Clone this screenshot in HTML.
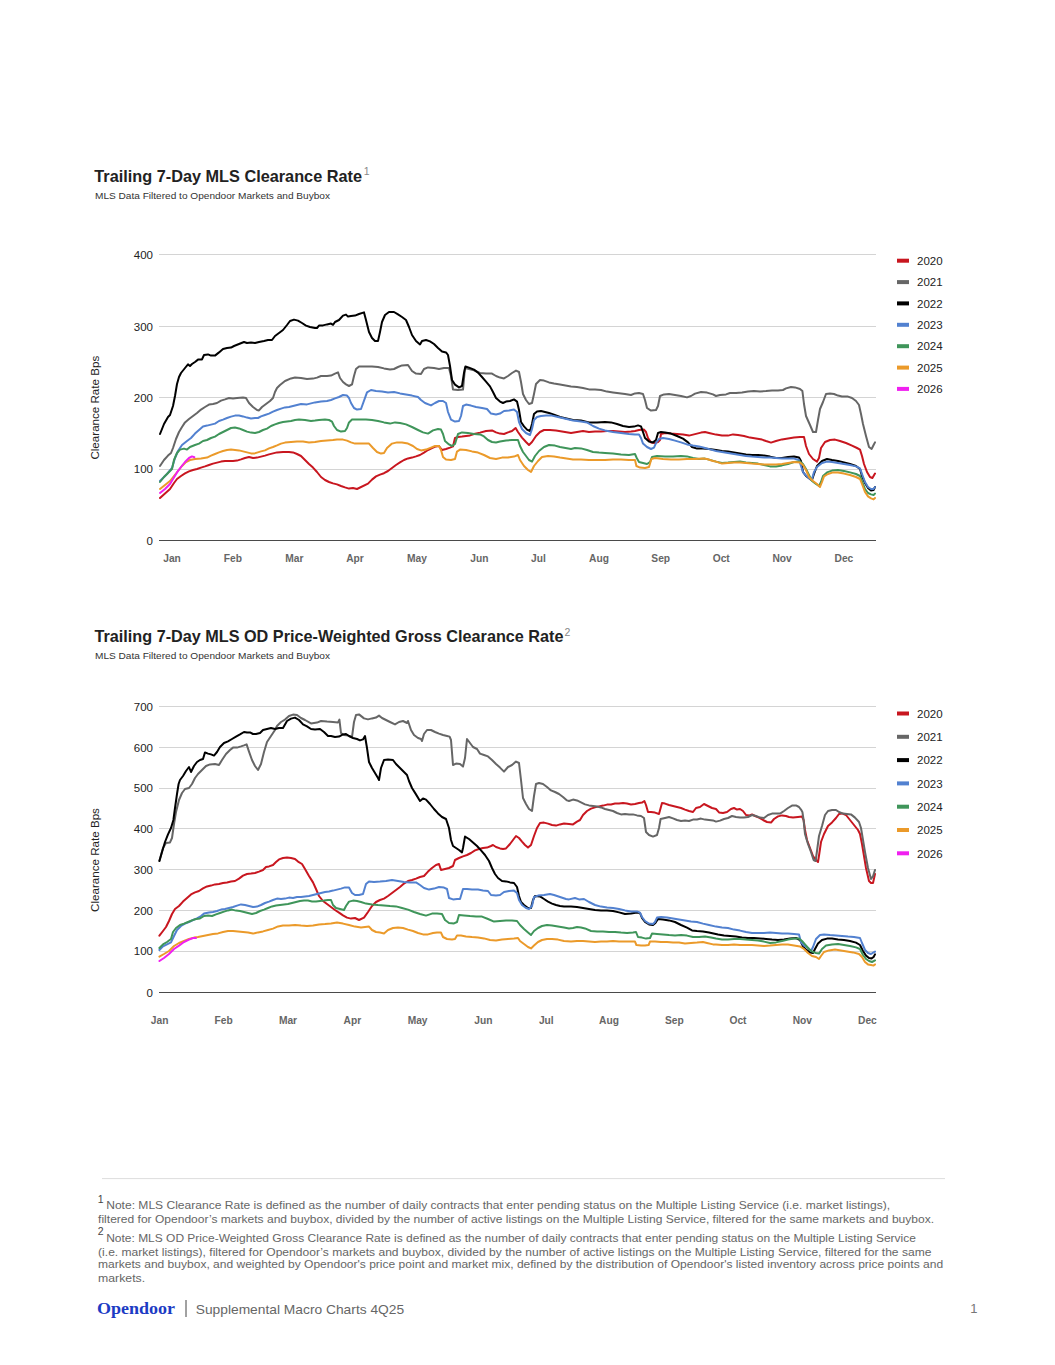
<!DOCTYPE html>
<html><head><meta charset="utf-8"><style>
html,body{margin:0;padding:0;background:#fff;}
body{width:1055px;height:1365px;position:relative;overflow:hidden;font-family:"Liberation Sans",sans-serif;}
svg{position:absolute;left:0;top:0;font-family:"Liberation Sans",sans-serif;}
.title{font-weight:bold;font-size:16.5px;fill:#222;}
.tsup{font-size:10.5px;fill:#888;}
.sub{font-size:9.5px;fill:#333;}
.yl{font-size:11.5px;fill:#222;}
.xl{font-size:11px;fill:#666;font-weight:bold;}
.lg{font-size:11.5px;fill:#222;}
.yt{font-size:11.6px;fill:#222;}
.fn{font-size:11px;fill:#666;}
.fsup{font-size:10.5px;fill:#444;}
.logo{font-family:"Liberation Serif",serif;font-weight:bold;font-size:17.5px;fill:#1c3bc4;}
.foot{font-size:12.8px;fill:#666;}
.pnum{font-size:13px;fill:#777;}
</style></head><body>
<svg width="1055" height="1365" viewBox="0 0 1055 1365">
<line x1="159" y1="254.5" x2="876" y2="254.5" stroke="#d4d4d4" stroke-width="1"/>
<text x="153" y="258.6" text-anchor="end" class="yl">400</text>
<line x1="159" y1="326.5" x2="876" y2="326.5" stroke="#d4d4d4" stroke-width="1"/>
<text x="153" y="330.59999999999997" text-anchor="end" class="yl">300</text>
<line x1="159" y1="397.5" x2="876" y2="397.5" stroke="#d4d4d4" stroke-width="1"/>
<text x="153" y="401.59999999999997" text-anchor="end" class="yl">200</text>
<line x1="159" y1="469.5" x2="876" y2="469.5" stroke="#d4d4d4" stroke-width="1"/>
<text x="153" y="473.4" text-anchor="end" class="yl">100</text>
<text x="153" y="544.7" text-anchor="end" class="yl">0</text>
<path d="M160.0,498.0 L165.0,493.4 L170.0,489.0 L174.0,483.0 L177.0,479.0 L181.0,476.0 L185.0,473.4 L189.0,471.4 L193.0,470.0 L197.0,469.0 L201.0,467.6 L205.0,466.4 L209.0,465.0 L213.0,463.6 L217.0,462.6 L221.0,461.6 L225.0,461.0 L229.0,461.0 L233.0,461.0 L237.0,460.6 L241.0,459.4 L245.0,458.0 L249.0,457.0 L253.0,458.0 L257.0,457.6 L261.0,456.6 L265.0,455.6 L269.0,454.4 L273.0,453.4 L277.0,452.4 L283.0,452.0 L289.0,452.0 L293.0,452.4 L297.0,454.0 L301.0,456.0 L305.0,460.0 L309.0,464.0 L313.0,467.6 L317.0,472.0 L321.0,477.0 L325.0,480.0 L329.0,482.0 L333.0,483.4 L337.0,484.4 L341.0,486.0 L345.0,487.4 L349.0,488.6 L353.0,488.0 L357.0,489.0 L368.0,483.6 L372.0,479.6 L376.0,476.4 L380.0,474.6 L384.0,473.2 L388.0,471.0 L392.0,468.0 L396.0,465.0 L400.0,462.4 L404.0,460.0 L408.0,458.4 L412.0,457.6 L416.0,456.4 L420.0,455.0 L424.0,452.6 L428.0,450.0 L432.0,448.0 L436.0,446.4 L439.0,446.0 L442.0,450.0 L446.0,449.0 L450.0,447.6 L453.0,446.4 L455.0,438.0 L458.0,437.0 L462.0,436.6 L466.0,436.0 L470.0,435.4 L474.0,434.0 L480.0,432.6 L486.0,431.0 L492.0,430.4 L496.0,432.4 L500.0,433.6 L504.0,434.0 L508.0,432.4 L512.0,431.0 L515.6,428.0 L518.0,432.0 L522.0,437.6 L526.0,442.0 L529.0,445.0 L532.0,442.0 L536.0,436.0 L540.0,432.0 L544.0,430.0 L550.0,430.0 L556.0,430.6 L562.0,431.4 L571.0,433.0 L577.0,432.0 L583.0,431.0 L589.0,432.0 L595.0,431.6 L601.0,431.4 L607.0,431.0 L613.0,431.0 L619.0,431.4 L625.0,432.0 L631.0,431.6 L635.0,431.0 L639.0,430.0 L644.0,429.6 L646.0,432.0 L648.0,438.0 L651.0,442.4 L655.0,443.0 L658.0,442.0 L660.0,440.0 L661.0,434.0 L665.0,433.0 L671.0,433.6 L677.0,434.0 L683.0,434.6 L689.0,435.6 L693.0,434.6 L697.0,433.6 L701.0,432.6 L705.0,432.0 L709.0,433.0 L716.0,434.6 L722.0,435.6 L728.0,435.6 L733.0,434.4 L738.0,435.0 L744.0,436.0 L750.0,437.6 L756.0,438.4 L762.0,439.6 L766.0,441.0 L771.0,442.6 L776.0,441.0 L782.0,439.4 L788.0,438.4 L794.0,437.6 L800.0,437.0 L804.0,437.0 L806.0,446.0 L809.0,454.0 L813.0,459.0 L817.0,461.6 L819.0,458.0 L821.0,448.0 L825.0,442.0 L830.0,440.0 L835.0,439.6 L840.0,441.0 L846.0,443.0 L852.0,445.6 L857.0,448.0 L860.0,449.6 L862.0,456.0 L864.0,464.0 L867.0,472.0 L870.0,477.0 L872.4,478.0 L875.0,473.6" fill="none" stroke="#c8161f" stroke-width="2" stroke-linejoin="round" stroke-linecap="round"/>
<path d="M160.0,466.0 L164.0,460.0 L168.0,455.6 L171.0,453.0 L173.0,448.0 L176.0,439.0 L179.0,432.0 L182.0,427.0 L185.0,422.4 L189.0,419.0 L193.0,416.0 L197.0,413.0 L201.0,409.6 L205.0,407.0 L209.0,404.6 L213.0,404.0 L217.0,403.0 L221.0,400.6 L225.0,399.4 L229.0,398.0 L233.0,398.6 L237.0,398.0 L243.0,397.4 L246.0,398.0 L249.0,403.0 L253.0,407.0 L257.0,410.0 L259.0,410.4 L262.0,407.0 L266.0,404.0 L270.0,401.0 L273.0,398.0 L275.0,392.0 L277.0,388.0 L280.0,385.0 L285.0,381.0 L291.0,378.4 L295.0,377.6 L301.0,378.0 L307.0,379.0 L313.0,378.6 L317.0,377.6 L321.0,376.0 L327.0,376.0 L331.0,375.6 L335.0,373.6 L338.0,372.4 L340.0,378.0 L343.0,382.0 L346.0,384.4 L349.0,386.0 L352.0,384.4 L354.0,376.0 L356.0,369.0 L359.0,366.4 L372.0,366.6 L378.0,367.0 L384.0,368.4 L390.0,369.6 L394.0,369.0 L398.0,367.0 L402.0,365.4 L408.0,365.0 L412.0,371.0 L416.0,373.6 L421.0,374.0 L424.0,369.0 L428.0,367.4 L434.0,368.0 L439.0,369.0 L444.0,368.0 L449.0,368.0 L451.0,376.0 L453.0,389.6 L458.0,390.0 L463.0,389.6 L465.0,368.0 L469.0,369.0 L474.0,370.4 L480.0,373.0 L486.0,373.6 L492.0,373.6 L496.0,376.0 L500.0,377.6 L504.0,378.4 L508.0,376.0 L512.0,373.0 L516.0,370.6 L519.0,372.0 L521.0,382.0 L523.0,394.0 L526.0,400.0 L529.0,404.0 L532.0,403.0 L534.0,394.0 L536.0,384.0 L540.0,380.0 L544.0,380.6 L549.0,382.4 L554.0,383.4 L560.0,384.4 L571.0,386.4 L577.0,387.0 L583.0,388.0 L589.0,389.4 L595.0,389.6 L601.0,390.0 L607.0,391.6 L613.0,392.4 L619.0,393.2 L625.0,394.0 L631.0,395.0 L635.0,393.4 L639.0,393.0 L643.0,394.0 L645.0,400.0 L647.0,408.0 L651.0,410.6 L656.0,410.0 L658.0,406.0 L660.0,396.0 L664.0,394.4 L669.0,394.0 L675.0,395.0 L681.0,396.0 L687.0,397.4 L691.0,396.0 L695.0,393.6 L701.0,392.0 L707.0,392.6 L713.0,394.4 L716.0,396.0 L720.0,395.0 L726.0,394.4 L730.0,393.0 L736.0,393.0 L742.0,392.4 L748.0,391.6 L754.0,391.0 L760.0,391.4 L766.0,391.0 L772.0,390.4 L778.0,390.4 L783.0,390.0 L786.0,388.4 L791.0,387.0 L795.0,387.4 L800.0,389.0 L802.4,391.0 L804.0,404.0 L806.0,416.0 L810.0,425.0 L813.0,432.0 L816.0,432.0 L818.0,420.0 L820.0,409.0 L823.0,402.0 L826.0,394.0 L830.0,393.4 L834.0,394.0 L838.0,395.6 L842.0,396.4 L848.0,396.6 L852.0,398.0 L856.0,401.0 L859.0,405.0 L861.0,414.0 L863.0,424.0 L866.0,436.0 L869.0,447.0 L871.6,449.0 L873.6,445.0 L875.0,442.4" fill="none" stroke="#666666" stroke-width="2" stroke-linejoin="round" stroke-linecap="round"/>
<path d="M160.0,434.0 L164.0,424.0 L168.0,417.0 L170.0,415.0 L173.0,406.0 L175.0,396.0 L177.0,384.0 L179.0,377.0 L181.0,373.0 L185.0,368.0 L188.0,364.4 L190.0,366.0 L192.0,364.0 L195.0,362.0 L198.0,359.6 L202.0,359.4 L204.0,355.0 L208.0,354.4 L211.0,355.6 L215.0,355.6 L219.0,352.4 L223.0,349.0 L227.0,348.0 L231.0,347.6 L234.0,346.0 L239.0,344.0 L244.0,342.0 L247.0,343.0 L251.0,342.6 L255.0,343.0 L259.0,342.0 L264.0,341.0 L268.0,340.0 L272.0,340.0 L275.0,336.0 L279.0,333.0 L283.0,330.0 L287.0,325.0 L290.0,321.0 L294.0,319.6 L298.0,320.6 L302.0,323.0 L306.0,325.6 L310.0,327.0 L315.0,328.0 L317.0,328.0 L319.0,325.6 L323.0,325.4 L327.0,324.4 L331.0,323.6 L333.0,324.8 L335.0,322.0 L339.0,320.0 L343.0,315.6 L346.0,314.6 L348.0,316.6 L351.0,316.0 L355.0,315.6 L359.0,314.0 L364.0,312.4 L366.0,320.0 L369.0,332.0 L372.0,338.0 L375.0,341.0 L378.0,341.0 L380.0,332.0 L382.0,322.0 L385.0,315.0 L389.0,312.0 L394.0,312.0 L398.0,314.4 L402.0,317.0 L406.0,320.0 L409.0,327.0 L412.0,335.0 L416.0,341.0 L420.0,344.4 L422.0,341.0 L426.0,340.0 L430.0,341.4 L434.0,344.0 L438.0,348.0 L442.0,351.6 L446.0,352.4 L448.0,355.0 L450.0,366.0 L452.0,380.0 L455.0,384.6 L459.0,387.4 L462.0,386.0 L464.0,373.0 L465.4,366.4 L469.0,367.6 L474.0,369.6 L478.0,372.6 L482.0,377.0 L486.0,381.6 L490.0,386.4 L493.0,392.0 L496.0,398.0 L500.0,401.6 L503.0,403.0 L506.0,401.6 L510.0,401.0 L514.0,399.4 L517.0,401.6 L519.0,410.0 L521.0,422.0 L524.0,426.4 L527.0,429.6 L530.0,431.0 L532.0,424.0 L534.0,414.0 L537.0,411.4 L541.0,411.0 L545.0,412.0 L549.0,413.0 L554.0,414.6 L560.0,417.0 L573.0,420.0 L581.0,420.6 L589.0,422.4 L597.0,422.6 L605.0,422.0 L611.0,422.4 L617.0,424.0 L623.0,426.0 L629.0,427.0 L634.0,426.6 L638.0,425.4 L641.0,426.4 L643.0,432.0 L645.0,438.0 L649.0,441.6 L653.0,442.4 L656.0,440.0 L658.0,433.0 L661.0,432.0 L665.0,432.4 L671.0,433.6 L677.0,436.0 L683.0,438.6 L688.0,442.4 L692.0,447.0 L697.0,448.6 L703.0,448.6 L709.0,449.0 L716.0,450.0 L722.0,451.0 L728.0,451.4 L734.0,452.4 L740.0,453.4 L746.0,454.4 L752.0,455.0 L758.0,455.0 L764.0,455.6 L770.0,456.6 L776.0,458.0 L782.0,458.0 L788.0,457.0 L794.0,456.4 L799.0,457.4 L801.0,461.0 L803.0,472.0 L806.0,476.0 L810.0,479.0 L812.0,480.0 L814.0,474.0 L817.0,466.0 L822.0,461.0 L827.0,459.0 L832.0,460.0 L838.0,461.0 L844.0,462.4 L850.0,464.0 L856.0,466.0 L860.0,469.0 L862.0,476.0 L865.0,483.0 L868.0,488.0 L871.0,490.6 L873.6,490.0 L875.0,487.0" fill="none" stroke="#000000" stroke-width="2" stroke-linejoin="round" stroke-linecap="round"/>
<path d="M160.0,481.0 L167.0,474.0 L172.0,468.0 L175.0,458.0 L178.0,451.0 L182.0,445.0 L187.0,441.0 L191.0,438.0 L195.0,433.6 L199.0,430.0 L203.0,426.4 L207.0,425.6 L211.0,424.6 L215.0,423.6 L219.0,421.0 L223.0,419.6 L227.0,418.0 L231.0,416.6 L235.0,415.6 L239.0,415.6 L243.0,416.4 L247.0,417.6 L251.0,418.4 L255.0,418.0 L258.0,418.0 L261.0,416.4 L265.0,415.0 L269.0,413.6 L273.0,411.6 L277.0,410.0 L281.0,408.6 L285.0,407.4 L289.0,407.0 L293.0,406.0 L297.0,405.0 L301.0,404.0 L307.0,404.4 L311.0,403.4 L315.0,402.4 L321.0,401.6 L327.0,401.0 L331.0,400.0 L335.0,398.4 L339.0,397.0 L343.0,395.0 L347.0,395.6 L349.0,398.0 L351.0,403.0 L354.0,408.0 L357.0,409.6 L361.0,409.0 L367.0,392.4 L371.0,390.0 L376.0,391.0 L382.0,391.6 L388.0,392.4 L394.0,392.0 L400.0,393.4 L406.0,394.4 L412.0,395.6 L418.0,397.0 L421.0,400.0 L425.0,403.0 L431.0,405.4 L435.0,403.0 L439.0,401.0 L443.0,401.0 L446.0,403.0 L448.0,412.0 L451.0,419.6 L455.0,421.6 L459.0,421.0 L461.0,416.0 L463.0,406.0 L466.0,404.6 L471.0,405.6 L476.0,407.0 L482.0,408.0 L487.0,409.0 L491.0,413.6 L496.0,414.4 L500.0,413.6 L504.0,411.0 L509.0,410.4 L514.0,409.4 L517.0,412.0 L519.0,422.0 L522.0,429.0 L526.0,433.0 L530.0,435.0 L532.0,429.0 L534.0,420.0 L537.0,417.0 L541.0,416.0 L546.0,415.6 L552.0,415.6 L558.0,417.0 L573.0,420.4 L581.0,421.4 L587.0,422.4 L593.0,426.0 L599.0,428.6 L605.0,430.4 L613.0,432.0 L621.0,433.0 L629.0,434.0 L635.0,434.6 L639.0,434.6 L641.0,438.0 L643.0,443.6 L647.0,447.0 L651.0,449.0 L654.0,447.6 L656.0,443.0 L659.0,439.0 L663.0,438.0 L669.0,439.0 L675.0,440.6 L681.0,442.4 L687.0,444.4 L693.0,445.6 L699.0,446.4 L705.0,448.0 L711.0,449.6 L716.0,451.0 L722.0,452.0 L728.0,453.0 L734.0,454.0 L740.0,455.0 L746.0,456.0 L752.0,456.6 L758.0,457.0 L764.0,457.4 L770.0,457.6 L776.0,458.0 L782.0,458.4 L788.0,458.6 L794.0,458.6 L799.0,460.0 L801.0,466.0 L803.0,472.0 L806.0,475.6 L810.0,479.0 L812.0,479.0 L814.0,472.0 L817.0,467.0 L822.0,463.0 L827.0,461.6 L832.0,462.0 L838.0,463.0 L844.0,464.0 L850.0,465.0 L856.0,466.4 L860.0,468.4 L862.0,474.0 L865.0,482.0 L868.0,487.0 L871.0,489.0 L873.6,489.0 L875.0,487.0" fill="none" stroke="#5281d0" stroke-width="2" stroke-linejoin="round" stroke-linecap="round"/>
<path d="M160.0,482.0 L164.0,477.0 L169.0,472.0 L172.0,469.0 L174.0,460.0 L177.0,453.0 L180.0,449.6 L184.0,448.6 L187.0,449.6 L190.0,447.0 L195.0,445.0 L199.0,443.6 L203.0,441.0 L207.0,440.0 L211.0,438.0 L215.0,436.6 L219.0,434.0 L223.0,432.0 L227.0,430.0 L231.0,428.0 L235.0,427.6 L239.0,428.4 L243.0,430.0 L247.0,431.6 L251.0,432.6 L255.0,433.0 L259.0,432.0 L263.0,430.0 L267.0,428.6 L271.0,426.0 L275.0,424.4 L279.0,423.0 L283.0,422.0 L287.0,421.4 L291.0,421.0 L295.0,420.0 L299.0,419.6 L305.0,420.0 L311.0,421.0 L315.0,420.6 L319.0,420.0 L325.0,419.6 L329.0,420.0 L332.0,421.6 L334.0,426.0 L337.0,430.0 L341.0,431.6 L345.0,431.0 L347.0,428.0 L349.0,422.4 L352.0,419.6 L357.0,419.4 L366.0,419.6 L372.0,420.0 L378.0,421.0 L384.0,422.4 L390.0,423.6 L395.0,422.4 L400.0,423.0 L406.0,424.4 L412.0,427.0 L418.0,430.0 L423.0,432.4 L428.0,433.6 L433.0,430.4 L438.0,429.0 L441.0,429.6 L443.0,434.0 L445.0,441.0 L449.0,444.4 L452.0,446.0 L455.0,444.0 L458.0,434.0 L462.0,432.4 L468.0,433.0 L474.0,434.0 L480.0,434.4 L484.0,436.4 L488.0,440.0 L492.0,442.0 L496.0,442.4 L500.0,441.6 L506.0,440.4 L512.0,440.0 L518.0,440.0 L520.0,446.0 L523.0,452.0 L526.0,456.0 L529.0,460.0 L532.0,461.6 L535.0,456.0 L539.0,451.0 L544.0,447.0 L549.0,445.0 L555.0,445.6 L560.0,447.0 L571.0,449.0 L575.0,448.0 L581.0,448.4 L587.0,450.0 L593.0,452.0 L599.0,452.6 L605.0,453.0 L613.0,453.6 L621.0,454.6 L629.0,455.0 L635.0,454.0 L637.0,458.6 L639.0,462.0 L643.0,463.0 L647.0,464.0 L650.0,462.0 L652.0,457.0 L657.0,456.0 L665.0,456.4 L673.0,456.6 L681.0,456.0 L687.0,456.4 L693.0,458.0 L699.0,459.0 L705.0,458.6 L709.0,459.6 L716.0,461.6 L722.0,463.0 L728.0,462.6 L734.0,462.0 L740.0,461.6 L746.0,462.4 L752.0,463.0 L758.0,463.6 L764.0,465.0 L770.0,466.4 L776.0,466.6 L782.0,465.4 L788.0,464.0 L794.0,462.0 L800.0,461.6 L803.0,464.0 L806.0,469.0 L809.0,475.0 L812.0,481.0 L816.0,484.0 L819.0,486.0 L821.0,482.0 L823.0,476.0 L827.0,472.4 L832.0,470.6 L838.0,470.0 L844.0,471.0 L850.0,472.4 L856.0,474.0 L860.0,476.0 L862.0,481.0 L865.0,489.0 L868.0,493.0 L871.0,494.4 L873.6,495.0 L875.0,493.6" fill="none" stroke="#3f955a" stroke-width="2" stroke-linejoin="round" stroke-linecap="round"/>
<path d="M160.0,489.0 L165.0,485.0 L170.0,481.0 L174.0,476.0 L178.0,471.0 L182.0,466.0 L186.0,462.0 L190.0,460.0 L195.0,459.0 L201.0,458.4 L207.0,457.6 L211.0,455.6 L215.0,454.0 L219.0,452.4 L223.0,451.0 L227.0,450.0 L231.0,449.6 L235.0,450.0 L239.0,450.4 L243.0,451.4 L247.0,452.4 L251.0,453.4 L254.0,453.6 L257.0,452.6 L261.0,451.4 L265.0,450.4 L269.0,448.4 L273.0,447.0 L277.0,445.4 L281.0,443.6 L285.0,442.6 L291.0,442.0 L297.0,441.4 L303.0,441.6 L309.0,442.4 L315.0,442.0 L321.0,441.0 L327.0,440.4 L333.0,440.0 L337.0,439.4 L343.0,439.6 L347.0,440.6 L351.0,442.4 L355.0,443.6 L364.0,443.6 L369.0,443.6 L373.0,448.0 L377.0,452.0 L381.0,453.6 L384.0,453.0 L387.0,448.0 L392.0,443.6 L397.0,442.4 L402.0,442.6 L408.0,443.6 L413.0,446.0 L417.0,449.0 L421.0,450.4 L426.0,449.6 L431.0,447.6 L435.0,446.0 L439.0,446.0 L441.0,450.0 L443.0,457.0 L446.0,459.6 L451.0,460.0 L455.0,459.0 L457.0,451.6 L460.0,449.6 L466.0,450.0 L472.0,451.4 L478.0,452.6 L484.0,455.0 L490.0,458.0 L496.0,459.0 L502.0,457.6 L508.0,457.4 L514.0,456.6 L518.0,455.0 L520.0,460.0 L524.0,466.0 L528.0,470.0 L531.0,472.0 L534.0,466.0 L538.0,461.0 L542.0,457.0 L548.0,456.0 L554.0,456.6 L560.0,457.6 L573.0,459.4 L581.0,459.6 L589.0,460.0 L597.0,460.0 L605.0,460.0 L613.0,459.4 L621.0,459.6 L629.0,460.0 L635.0,460.0 L636.4,466.0 L640.0,467.6 L645.0,468.0 L649.0,467.0 L651.4,459.0 L655.0,458.0 L663.0,459.0 L671.0,459.6 L679.0,459.4 L687.0,459.0 L695.0,459.0 L703.0,458.4 L707.0,459.0 L713.0,461.0 L716.0,461.6 L722.0,463.6 L728.0,463.0 L734.0,462.4 L740.0,462.6 L746.0,463.0 L752.0,463.6 L758.0,464.0 L764.0,464.4 L770.0,464.6 L776.0,464.4 L782.0,464.0 L788.0,463.0 L794.0,462.0 L800.0,462.4 L803.0,465.0 L806.0,470.0 L809.0,477.0 L813.0,481.0 L817.0,484.0 L820.0,487.0 L822.0,482.0 L824.0,476.4 L828.0,474.0 L833.0,472.4 L838.0,472.4 L844.0,473.6 L850.0,475.0 L856.0,477.0 L860.0,479.0 L862.0,484.0 L865.0,492.0 L868.0,496.4 L871.0,498.4 L873.6,499.4 L875.0,498.0" fill="none" stroke="#eb9a2a" stroke-width="2" stroke-linejoin="round" stroke-linecap="round"/>
<path d="M160.0,493.0 L165.0,489.0 L170.0,484.0 L173.0,479.0 L177.0,472.4 L181.0,467.0 L185.0,462.0 L189.0,458.0 L192.0,456.4 L194.4,457.2" fill="none" stroke="#f020f0" stroke-width="2" stroke-linejoin="round" stroke-linecap="round"/>
<line x1="159" y1="540.5" x2="876" y2="540.5" stroke="#4a4a4a" stroke-width="1.2"/>
<text transform="translate(172,561.7) scale(0.93,1)" text-anchor="middle" class="xl">Jan</text>
<text transform="translate(232.8,561.7) scale(0.93,1)" text-anchor="middle" class="xl">Feb</text>
<text transform="translate(294.3,561.7) scale(0.93,1)" text-anchor="middle" class="xl">Mar</text>
<text transform="translate(355,561.7) scale(0.93,1)" text-anchor="middle" class="xl">Apr</text>
<text transform="translate(417,561.7) scale(0.93,1)" text-anchor="middle" class="xl">May</text>
<text transform="translate(479.3,561.7) scale(0.93,1)" text-anchor="middle" class="xl">Jun</text>
<text transform="translate(538.5,561.7) scale(0.93,1)" text-anchor="middle" class="xl">Jul</text>
<text transform="translate(599,561.7) scale(0.93,1)" text-anchor="middle" class="xl">Aug</text>
<text transform="translate(660.7,561.7) scale(0.93,1)" text-anchor="middle" class="xl">Sep</text>
<text transform="translate(721.2,561.7) scale(0.93,1)" text-anchor="middle" class="xl">Oct</text>
<text transform="translate(782.1,561.7) scale(0.93,1)" text-anchor="middle" class="xl">Nov</text>
<text transform="translate(843.9,561.7) scale(0.93,1)" text-anchor="middle" class="xl">Dec</text>
<rect x="897" y="258.7" width="12" height="4" fill="#c8161f"/>
<text x="917" y="264.9" class="lg">2020</text>
<rect x="897" y="280.1" width="12" height="4" fill="#666666"/>
<text x="917" y="286.3" class="lg">2021</text>
<rect x="897" y="301.4" width="12" height="4" fill="#000000"/>
<text x="917" y="307.6" class="lg">2022</text>
<rect x="897" y="322.8" width="12" height="4" fill="#5281d0"/>
<text x="917" y="329.0" class="lg">2023</text>
<rect x="897" y="344.2" width="12" height="4" fill="#3f955a"/>
<text x="917" y="350.4" class="lg">2024</text>
<rect x="897" y="365.6" width="12" height="4" fill="#eb9a2a"/>
<text x="917" y="371.8" class="lg">2025</text>
<rect x="897" y="386.9" width="12" height="4" fill="#f020f0"/>
<text x="917" y="393.1" class="lg">2026</text>
<text transform="translate(99.0,407.7) rotate(-90)" text-anchor="middle" class="yt">Clearance Rate Bps</text>
<line x1="159" y1="706.5" x2="876" y2="706.5" stroke="#d4d4d4" stroke-width="1"/>
<text x="153" y="710.8000000000001" text-anchor="end" class="yl">700</text>
<line x1="159" y1="747.5" x2="876" y2="747.5" stroke="#d4d4d4" stroke-width="1"/>
<text x="153" y="751.6" text-anchor="end" class="yl">600</text>
<line x1="159" y1="788.5" x2="876" y2="788.5" stroke="#d4d4d4" stroke-width="1"/>
<text x="153" y="792.4000000000001" text-anchor="end" class="yl">500</text>
<line x1="159" y1="828.5" x2="876" y2="828.5" stroke="#d4d4d4" stroke-width="1"/>
<text x="153" y="833.1" text-anchor="end" class="yl">400</text>
<line x1="159" y1="869.5" x2="876" y2="869.5" stroke="#d4d4d4" stroke-width="1"/>
<text x="153" y="873.8000000000001" text-anchor="end" class="yl">300</text>
<line x1="159" y1="910.5" x2="876" y2="910.5" stroke="#d4d4d4" stroke-width="1"/>
<text x="153" y="914.6" text-anchor="end" class="yl">200</text>
<line x1="159" y1="951.5" x2="876" y2="951.5" stroke="#d4d4d4" stroke-width="1"/>
<text x="153" y="955.3000000000001" text-anchor="end" class="yl">100</text>
<text x="153" y="996.7" text-anchor="end" class="yl">0</text>
<path d="M159.4,935.6 L163.0,931.0 L166.0,927.0 L169.0,921.0 L172.0,914.0 L175.0,909.0 L179.0,906.0 L183.0,901.6 L187.0,898.0 L191.0,894.4 L195.0,892.4 L199.0,891.0 L203.0,888.4 L207.0,886.4 L211.0,885.6 L215.0,884.4 L219.0,884.0 L223.0,883.0 L227.0,882.4 L231.0,881.6 L235.0,881.0 L239.0,878.6 L243.0,875.6 L247.0,874.0 L251.0,873.6 L255.0,873.0 L259.0,871.6 L263.0,870.0 L266.0,867.0 L269.0,866.4 L273.0,865.0 L276.0,862.0 L279.0,859.4 L283.0,858.0 L287.0,857.6 L291.0,858.0 L295.0,859.0 L298.0,861.6 L302.0,864.0 L305.0,869.0 L309.0,876.0 L313.0,882.4 L316.0,889.0 L319.0,896.0 L323.0,901.0 L327.0,904.0 L331.0,907.0 L335.0,910.0 L339.0,912.6 L343.0,915.4 L347.0,917.6 L351.0,918.6 L355.0,918.0 L359.0,920.0 L364.0,917.6 L368.0,912.0 L372.0,906.0 L376.0,902.0 L380.0,900.0 L384.0,898.6 L388.0,896.0 L392.0,893.0 L396.0,890.0 L400.0,887.0 L404.0,883.6 L408.0,881.0 L412.0,880.0 L416.0,878.6 L420.0,877.0 L424.0,876.0 L428.0,871.6 L432.0,868.0 L436.0,865.0 L439.0,864.0 L441.0,870.0 L445.0,869.0 L449.0,868.0 L453.0,866.0 L455.0,860.0 L459.0,858.0 L463.0,856.4 L467.0,855.0 L471.0,853.0 L475.0,850.4 L479.0,849.0 L483.0,848.0 L487.0,847.6 L491.0,846.0 L493.0,845.0 L496.0,847.0 L500.0,848.4 L503.0,849.0 L506.0,848.4 L510.0,844.0 L513.0,840.0 L516.0,836.0 L519.0,838.0 L522.0,841.6 L525.0,845.0 L528.0,847.6 L531.0,845.0 L534.0,836.0 L537.0,828.0 L540.0,823.0 L544.0,822.6 L548.0,823.6 L552.0,825.0 L556.0,825.6 L560.0,824.4 L564.0,823.6 L569.0,824.0 L573.0,824.4 L577.0,821.6 L580.0,820.0 L583.0,815.0 L587.0,811.0 L591.0,808.6 L595.0,807.4 L599.0,806.4 L603.0,805.6 L607.0,804.6 L611.0,804.4 L615.0,803.6 L619.0,803.4 L623.0,803.0 L627.0,803.6 L631.0,804.4 L635.0,804.0 L639.0,803.0 L642.0,802.6 L644.4,801.0 L646.0,805.0 L648.0,812.0 L651.0,812.0 L655.0,812.6 L659.0,814.0 L662.0,803.0 L665.0,803.6 L669.0,805.0 L673.0,806.0 L677.0,807.0 L681.0,808.0 L685.0,809.6 L689.0,811.0 L693.0,812.0 L696.0,808.0 L700.0,807.0 L704.0,804.0 L708.0,806.0 L712.0,808.0 L716.0,809.0 L719.0,812.4 L723.0,813.0 L727.0,812.0 L731.0,809.0 L734.0,808.0 L737.0,809.6 L740.0,809.0 L743.0,811.0 L746.0,815.0 L749.0,815.6 L752.0,814.4 L755.0,816.0 L759.0,817.6 L763.0,820.0 L767.0,822.0 L771.0,822.6 L774.0,819.0 L778.0,816.4 L782.0,815.4 L786.0,816.0 L789.0,817.0 L793.0,817.6 L798.0,817.0 L802.0,816.6 L803.6,820.0 L805.0,830.0 L807.0,840.0 L810.0,848.0 L813.0,856.0 L816.0,860.0 L818.0,862.0 L819.4,853.0 L821.0,842.0 L824.0,834.0 L828.0,826.0 L832.0,822.4 L836.0,818.0 L839.0,814.0 L842.0,813.4 L846.0,815.0 L850.0,820.0 L854.0,825.0 L858.0,830.0 L860.0,834.0 L862.0,844.0 L864.0,856.0 L866.0,868.0 L869.0,881.0 L871.0,883.0 L873.0,883.0 L875.0,874.0" fill="none" stroke="#c8161f" stroke-width="2" stroke-linejoin="round" stroke-linecap="round"/>
<path d="M159.4,861.0 L163.0,848.0 L166.0,843.0 L170.0,842.4 L172.0,838.0 L174.0,824.0 L176.0,812.0 L179.0,800.0 L182.0,793.0 L185.0,789.0 L189.0,788.0 L192.0,784.0 L195.0,778.0 L198.0,774.0 L202.0,770.0 L206.0,766.0 L210.0,764.4 L215.0,764.0 L219.0,765.0 L222.0,760.0 L226.0,754.0 L230.0,750.0 L233.0,747.6 L237.0,747.6 L241.0,746.4 L244.0,745.4 L246.6,744.4 L249.0,751.6 L252.0,760.0 L255.0,766.0 L258.0,770.0 L261.0,764.0 L264.0,752.0 L267.0,742.0 L271.0,736.0 L275.0,730.0 L277.0,726.0 L281.0,722.0 L285.0,719.6 L289.0,716.0 L293.0,714.6 L297.0,715.0 L301.0,718.0 L305.0,720.0 L311.0,723.4 L317.0,722.6 L321.0,721.0 L327.0,721.6 L333.0,722.0 L338.0,722.4 L339.4,719.6 L341.0,733.0 L344.0,735.0 L348.0,735.6 L352.0,737.0 L354.0,722.0 L356.0,715.0 L359.0,714.4 L364.0,718.4 L368.0,719.4 L372.0,718.4 L376.0,717.6 L379.0,715.6 L382.0,718.0 L386.0,720.0 L390.0,722.0 L395.0,724.4 L399.0,722.0 L403.0,721.0 L407.0,723.0 L408.0,721.0 L411.0,730.0 L414.0,735.0 L418.0,738.0 L421.0,739.0 L422.0,741.0 L424.0,734.0 L427.0,730.0 L431.0,730.0 L435.0,732.0 L439.0,733.6 L443.0,735.0 L447.0,736.0 L449.6,736.6 L451.0,740.0 L453.0,765.0 L456.0,763.6 L460.0,764.0 L463.0,766.6 L465.0,758.0 L467.0,739.0 L470.0,743.0 L473.0,747.0 L477.0,749.0 L480.0,753.6 L484.0,755.0 L488.0,756.4 L492.0,760.0 L496.0,764.0 L500.0,767.6 L504.0,771.6 L508.0,767.0 L512.0,765.0 L516.0,761.6 L519.0,763.0 L521.0,780.0 L523.0,798.0 L526.0,804.0 L529.0,809.0 L532.0,811.0 L534.0,796.0 L536.0,784.0 L539.0,783.0 L543.0,784.0 L547.0,787.0 L551.0,790.4 L555.0,792.0 L559.0,794.0 L563.0,797.0 L567.0,800.4 L569.0,801.0 L573.0,799.6 L577.0,800.4 L581.0,802.4 L585.0,804.4 L589.0,805.4 L593.0,806.0 L597.0,806.6 L601.0,807.4 L605.0,809.0 L609.0,810.0 L613.0,811.0 L617.0,813.0 L621.0,814.4 L625.0,814.0 L629.0,814.6 L633.0,814.4 L637.0,815.4 L641.0,816.0 L644.0,818.0 L646.0,832.0 L649.0,835.0 L653.0,836.6 L657.0,835.0 L659.0,828.0 L660.6,819.0 L665.0,818.0 L669.0,817.0 L673.0,818.4 L677.0,820.0 L681.0,821.0 L685.0,820.4 L689.0,821.0 L693.0,819.6 L697.0,819.4 L701.0,818.6 L705.0,819.6 L709.0,820.0 L713.0,820.4 L716.0,821.6 L720.0,820.6 L724.0,819.0 L728.0,818.0 L732.0,816.0 L736.0,817.0 L740.0,817.6 L744.0,817.4 L748.0,817.0 L752.0,815.0 L756.0,816.0 L760.0,817.6 L764.0,818.0 L768.0,815.0 L772.0,813.6 L776.0,813.6 L780.0,813.6 L784.0,811.0 L788.0,808.0 L792.0,805.6 L796.0,805.4 L799.0,807.0 L801.0,809.6 L802.4,812.0 L803.6,820.0 L805.0,834.0 L808.0,844.0 L811.0,852.0 L813.6,860.0 L815.6,861.0 L817.0,851.0 L819.0,836.0 L822.0,826.0 L825.0,815.0 L828.0,811.0 L832.0,810.0 L836.0,810.0 L839.0,812.0 L843.0,813.6 L847.0,814.0 L851.0,814.4 L855.0,817.6 L859.0,822.0 L861.0,828.0 L863.0,840.0 L865.0,852.0 L868.0,868.0 L871.0,879.0 L873.0,876.4 L875.0,870.0" fill="none" stroke="#666666" stroke-width="2" stroke-linejoin="round" stroke-linecap="round"/>
<path d="M159.4,861.0 L162.0,852.0 L165.0,842.0 L168.0,834.4 L171.0,828.0 L173.4,820.0 L175.0,808.0 L177.0,794.0 L178.6,784.0 L180.0,780.0 L183.0,776.0 L186.0,771.0 L189.0,767.0 L191.0,772.0 L194.0,766.0 L197.0,762.0 L200.0,760.0 L203.0,759.0 L205.0,752.4 L208.0,753.6 L211.0,754.4 L214.0,755.6 L217.0,752.0 L220.0,747.0 L224.0,743.0 L228.0,741.4 L232.0,739.0 L236.0,736.6 L240.0,734.4 L244.0,732.0 L247.0,732.6 L250.0,732.4 L253.0,734.0 L256.0,734.0 L260.0,733.0 L263.0,730.0 L267.0,729.0 L271.0,728.0 L275.0,729.0 L279.0,728.0 L283.0,728.0 L287.0,721.0 L291.0,718.6 L295.0,717.6 L299.0,720.0 L303.0,724.4 L307.0,726.4 L311.0,729.0 L315.0,729.4 L320.0,729.0 L324.0,732.0 L328.0,736.0 L331.0,736.0 L335.0,737.0 L339.0,736.6 L343.0,734.4 L346.0,734.0 L349.0,736.0 L353.0,738.0 L357.0,739.0 L360.0,740.4 L363.0,739.4 L365.0,736.0 L367.0,748.0 L369.0,762.0 L372.0,768.0 L375.0,773.0 L378.0,778.0 L379.0,780.0 L381.0,768.0 L384.0,760.0 L388.0,759.4 L393.0,760.0 L396.0,764.0 L400.0,768.0 L404.0,772.0 L407.0,775.0 L409.0,781.0 L412.0,788.0 L416.0,794.4 L420.0,801.0 L423.0,798.4 L426.0,799.6 L430.0,804.0 L434.0,809.0 L438.0,813.4 L442.0,817.0 L446.0,819.0 L449.0,828.0 L451.0,840.0 L453.0,846.0 L456.0,848.0 L459.0,850.0 L462.0,852.4 L463.0,848.0 L465.0,836.6 L469.0,839.0 L473.0,842.4 L477.0,846.0 L481.0,850.4 L485.0,855.0 L489.0,861.0 L492.0,868.0 L495.0,874.0 L498.0,878.0 L502.0,881.0 L506.0,881.4 L510.0,882.4 L514.0,883.0 L517.0,887.0 L519.0,896.0 L521.0,902.0 L524.0,905.0 L528.0,908.0 L531.0,908.0 L533.0,900.0 L535.0,896.0 L540.0,896.4 L544.0,899.0 L548.0,901.6 L552.0,903.6 L556.0,905.0 L560.0,906.0 L564.0,906.4 L571.0,906.4 L577.0,907.0 L583.0,908.0 L589.0,909.0 L595.0,910.0 L601.0,910.6 L607.0,910.4 L613.0,911.0 L619.0,912.4 L625.0,914.0 L631.0,913.6 L637.0,912.4 L640.0,913.0 L642.0,918.0 L645.0,922.0 L649.0,924.4 L653.0,925.0 L655.4,923.0 L658.0,919.0 L663.0,919.6 L669.0,920.4 L675.0,922.0 L681.0,925.0 L687.0,927.6 L692.0,930.4 L697.0,931.0 L703.0,931.4 L709.0,932.4 L718.0,934.4 L724.0,935.4 L730.0,936.0 L736.0,936.6 L742.0,937.4 L748.0,938.0 L754.0,938.0 L760.0,938.4 L766.0,939.0 L772.0,939.6 L778.0,940.0 L784.0,939.6 L790.0,938.6 L796.0,938.0 L800.0,940.0 L803.0,946.4 L806.0,949.6 L810.0,952.4 L813.0,953.0 L815.0,949.0 L818.0,943.6 L822.0,940.0 L827.0,938.6 L832.0,938.6 L838.0,939.4 L844.0,940.0 L850.0,941.0 L856.0,942.6 L860.0,945.0 L863.0,951.0 L866.0,955.6 L869.0,958.0 L871.6,958.4 L873.6,957.0 L875.0,954.4" fill="none" stroke="#000000" stroke-width="2" stroke-linejoin="round" stroke-linecap="round"/>
<path d="M159.4,950.0 L163.0,946.4 L167.0,944.4 L171.0,942.4 L174.0,936.0 L177.0,930.0 L181.0,926.0 L185.0,923.6 L189.0,922.0 L193.0,920.0 L197.0,918.4 L201.0,916.0 L204.0,913.6 L209.0,912.6 L213.0,912.0 L217.0,911.0 L221.0,909.6 L225.0,909.0 L229.0,908.0 L233.0,907.0 L237.0,905.6 L241.0,904.4 L245.0,905.0 L249.0,906.0 L253.0,907.0 L257.0,906.6 L261.0,905.0 L265.0,903.0 L269.0,901.6 L273.0,900.0 L277.0,898.6 L281.0,899.0 L285.0,898.6 L289.0,897.6 L293.0,898.0 L297.0,897.0 L301.0,897.0 L305.0,896.4 L309.0,896.0 L313.0,895.0 L317.0,894.0 L321.0,893.0 L325.0,892.0 L329.0,891.4 L333.0,890.6 L337.0,889.6 L341.0,888.6 L345.0,887.4 L349.0,887.6 L352.0,893.0 L355.0,895.0 L359.0,895.0 L363.0,894.0 L366.0,884.0 L369.0,881.4 L374.0,882.0 L380.0,881.6 L386.0,881.0 L392.0,880.0 L398.0,881.0 L404.0,882.0 L410.0,882.4 L416.0,882.4 L420.0,885.0 L424.0,888.0 L429.0,889.6 L434.0,888.6 L439.0,887.0 L444.0,887.6 L447.0,889.0 L449.0,898.0 L453.0,899.4 L457.0,899.0 L460.0,899.0 L463.0,889.0 L467.0,889.0 L472.0,889.6 L478.0,889.6 L483.0,890.4 L488.0,891.0 L491.0,895.0 L496.0,895.4 L500.0,895.0 L504.0,892.0 L509.0,891.0 L514.0,890.6 L517.0,893.0 L519.0,900.0 L522.0,905.0 L526.0,908.0 L529.0,909.0 L532.0,906.0 L534.0,897.0 L538.0,895.6 L544.0,895.0 L550.0,894.0 L554.0,895.0 L560.0,897.0 L566.0,899.0 L569.0,899.4 L575.0,898.0 L579.0,899.4 L584.0,899.0 L589.0,902.0 L595.0,905.0 L601.0,906.6 L607.0,907.6 L613.0,908.0 L619.0,909.0 L625.0,910.4 L631.0,911.4 L637.0,911.4 L640.0,912.6 L642.0,917.0 L645.0,921.0 L649.0,923.6 L653.0,924.0 L655.0,922.0 L657.0,917.6 L661.0,917.0 L667.0,917.6 L673.0,918.6 L679.0,919.6 L685.0,920.6 L691.0,921.6 L697.0,922.0 L703.0,923.6 L709.0,925.0 L716.0,926.6 L722.0,927.4 L728.0,928.0 L734.0,929.6 L740.0,930.6 L746.0,932.0 L752.0,933.0 L758.0,933.0 L764.0,933.0 L770.0,932.6 L776.0,933.0 L782.0,933.4 L788.0,933.6 L794.0,934.0 L799.0,934.4 L801.0,942.0 L804.0,945.6 L808.0,948.0 L811.0,951.0 L813.0,947.0 L816.0,939.0 L820.0,935.0 L824.0,934.4 L830.0,935.0 L836.0,935.4 L842.0,936.0 L848.0,936.6 L854.0,937.0 L860.0,938.0 L862.0,943.0 L865.0,950.0 L868.0,953.0 L871.0,954.0 L873.6,952.4 L875.0,951.6" fill="none" stroke="#5281d0" stroke-width="2" stroke-linejoin="round" stroke-linecap="round"/>
<path d="M159.4,948.0 L163.0,944.4 L167.0,942.0 L171.0,939.0 L173.0,932.0 L176.0,928.0 L180.0,925.0 L184.0,923.6 L188.0,922.0 L192.0,920.4 L196.0,919.0 L200.0,918.4 L204.0,916.0 L208.0,915.6 L212.0,916.0 L216.0,914.4 L220.0,913.0 L224.0,911.6 L228.0,910.4 L232.0,909.6 L236.0,910.6 L240.0,911.0 L244.0,912.0 L248.0,913.0 L252.0,914.0 L256.0,913.0 L260.0,911.0 L264.0,909.6 L268.0,908.0 L272.0,906.4 L276.0,905.6 L280.0,905.0 L284.0,904.4 L288.0,904.0 L292.0,903.0 L296.0,902.0 L300.0,901.0 L304.0,900.6 L308.0,900.6 L312.0,901.4 L316.0,901.6 L320.0,901.0 L324.0,900.6 L328.0,900.0 L331.0,900.0 L333.0,905.0 L336.0,908.0 L340.0,909.0 L344.0,910.0 L346.0,906.0 L349.0,901.6 L353.0,900.6 L357.0,901.0 L361.0,902.0 L366.0,903.6 L372.0,904.4 L378.0,905.0 L384.0,905.4 L390.0,906.0 L396.0,906.4 L402.0,908.0 L408.0,909.6 L414.0,912.0 L420.0,914.0 L426.0,915.6 L432.0,913.6 L437.0,913.6 L442.0,914.0 L445.0,920.0 L449.0,923.0 L454.0,923.4 L457.0,922.0 L459.0,915.0 L464.0,915.4 L470.0,916.0 L476.0,916.4 L482.0,916.6 L488.0,919.0 L494.0,921.6 L500.0,921.0 L506.0,920.4 L512.0,920.4 L517.0,921.0 L520.0,925.0 L524.0,929.0 L528.0,932.4 L531.0,935.0 L534.0,931.0 L538.0,928.0 L542.0,926.0 L547.0,925.0 L552.0,925.6 L558.0,926.6 L564.0,927.6 L569.0,928.6 L573.0,928.0 L577.0,927.0 L581.0,927.6 L585.0,928.4 L591.0,931.0 L597.0,931.4 L603.0,931.6 L609.0,932.0 L615.0,932.0 L621.0,932.6 L627.0,933.0 L633.0,932.4 L636.0,932.0 L638.0,937.0 L642.0,937.6 L646.0,938.6 L650.0,938.0 L652.0,933.6 L657.0,934.0 L663.0,934.4 L669.0,935.0 L675.0,935.4 L681.0,935.0 L687.0,935.6 L693.0,937.0 L699.0,937.0 L705.0,936.4 L711.0,937.4 L716.0,938.4 L722.0,939.4 L728.0,939.4 L734.0,939.0 L740.0,939.0 L746.0,939.6 L752.0,940.0 L758.0,940.6 L764.0,941.6 L770.0,943.0 L776.0,942.4 L782.0,941.0 L788.0,939.6 L794.0,938.6 L799.0,938.6 L802.0,941.0 L805.0,944.4 L809.0,949.0 L812.0,951.6 L816.0,953.0 L819.0,953.6 L822.0,949.0 L826.0,945.6 L832.0,944.4 L838.0,944.0 L844.0,945.0 L850.0,946.0 L856.0,947.4 L860.0,949.0 L863.0,955.0 L866.0,959.0 L869.0,961.0 L872.0,962.0 L875.0,960.4" fill="none" stroke="#3f955a" stroke-width="2" stroke-linejoin="round" stroke-linecap="round"/>
<path d="M159.4,956.6 L164.0,954.0 L169.0,951.0 L174.0,946.0 L179.0,943.0 L184.0,941.0 L189.0,939.0 L194.0,937.6 L198.0,937.0 L203.0,936.0 L208.0,935.0 L213.0,934.0 L218.0,933.4 L223.0,932.0 L228.0,931.0 L233.0,931.0 L238.0,931.4 L243.0,932.0 L248.0,932.6 L253.0,933.6 L258.0,932.4 L263.0,931.4 L268.0,930.0 L273.0,928.6 L278.0,926.4 L283.0,925.4 L289.0,925.4 L295.0,925.0 L301.0,925.6 L307.0,926.0 L313.0,925.6 L319.0,924.4 L325.0,924.0 L331.0,923.4 L337.0,922.6 L343.0,923.6 L349.0,925.0 L355.0,926.6 L361.0,927.4 L365.0,927.0 L369.0,926.6 L372.0,930.0 L376.0,932.0 L380.0,932.6 L384.0,933.4 L388.0,930.0 L393.0,928.0 L398.0,927.6 L403.0,928.0 L408.0,929.6 L413.0,931.0 L418.0,933.0 L423.0,934.4 L428.0,934.4 L433.0,933.0 L437.0,932.4 L441.0,932.6 L443.0,937.0 L447.0,939.0 L452.0,939.4 L455.0,939.0 L457.0,935.6 L461.0,935.6 L466.0,936.4 L472.0,937.0 L478.0,937.4 L484.0,938.4 L490.0,940.0 L496.0,940.6 L502.0,939.6 L508.0,939.0 L514.0,938.6 L518.0,938.0 L520.0,941.0 L524.0,944.0 L528.0,947.0 L531.0,948.4 L534.0,945.6 L538.0,942.0 L542.0,940.0 L547.0,939.0 L552.0,939.0 L558.0,939.6 L564.0,941.0 L571.0,941.6 L577.0,941.0 L583.0,941.0 L589.0,941.4 L595.0,942.0 L601.0,941.6 L607.0,941.4 L613.0,941.0 L619.0,941.4 L625.0,941.6 L631.0,941.6 L635.0,941.6 L636.4,945.0 L641.0,945.4 L645.0,945.6 L648.6,945.0 L650.0,941.6 L655.0,941.4 L661.0,942.0 L667.0,942.0 L673.0,942.4 L679.0,942.6 L685.0,943.4 L691.0,943.0 L697.0,942.6 L703.0,942.0 L707.0,943.0 L713.0,944.4 L716.0,944.4 L722.0,945.0 L728.0,945.0 L734.0,944.4 L740.0,945.0 L746.0,945.0 L752.0,945.0 L758.0,945.4 L764.0,946.0 L770.0,945.6 L776.0,945.0 L782.0,944.6 L788.0,944.4 L794.0,945.4 L800.0,946.4 L804.0,949.0 L808.0,953.0 L812.0,956.0 L816.0,957.0 L819.0,959.0 L821.0,956.0 L824.0,952.0 L829.0,950.4 L835.0,949.6 L841.0,950.4 L847.0,951.4 L853.0,952.4 L859.0,954.0 L862.0,957.0 L865.0,962.0 L868.0,964.4 L871.0,965.0 L873.6,965.6 L875.0,964.4" fill="none" stroke="#eb9a2a" stroke-width="2" stroke-linejoin="round" stroke-linecap="round"/>
<path d="M159.4,961.0 L164.0,958.0 L169.0,954.0 L174.0,949.0 L179.0,945.6 L184.0,942.0 L189.0,939.6 L193.0,938.0 L196.0,938.0" fill="none" stroke="#f020f0" stroke-width="2" stroke-linejoin="round" stroke-linecap="round"/>
<line x1="159" y1="992.5" x2="876" y2="992.5" stroke="#4a4a4a" stroke-width="1.2"/>
<text transform="translate(159.6,1023.5) scale(0.93,1)" text-anchor="middle" class="xl">Jan</text>
<text transform="translate(223.6,1023.5) scale(0.93,1)" text-anchor="middle" class="xl">Feb</text>
<text transform="translate(288,1023.5) scale(0.93,1)" text-anchor="middle" class="xl">Mar</text>
<text transform="translate(352.4,1023.5) scale(0.93,1)" text-anchor="middle" class="xl">Apr</text>
<text transform="translate(417.6,1023.5) scale(0.93,1)" text-anchor="middle" class="xl">May</text>
<text transform="translate(483.3,1023.5) scale(0.93,1)" text-anchor="middle" class="xl">Jun</text>
<text transform="translate(546.3,1023.5) scale(0.93,1)" text-anchor="middle" class="xl">Jul</text>
<text transform="translate(609,1023.5) scale(0.93,1)" text-anchor="middle" class="xl">Aug</text>
<text transform="translate(674.3,1023.5) scale(0.93,1)" text-anchor="middle" class="xl">Sep</text>
<text transform="translate(738,1023.5) scale(0.93,1)" text-anchor="middle" class="xl">Oct</text>
<text transform="translate(802.3,1023.5) scale(0.93,1)" text-anchor="middle" class="xl">Nov</text>
<text transform="translate(867.4,1023.5) scale(0.93,1)" text-anchor="middle" class="xl">Dec</text>
<rect x="897" y="711.5" width="12" height="4" fill="#c8161f"/>
<text x="917" y="717.7" class="lg">2020</text>
<rect x="897" y="734.8" width="12" height="4" fill="#666666"/>
<text x="917" y="741.0" class="lg">2021</text>
<rect x="897" y="758.1" width="12" height="4" fill="#000000"/>
<text x="917" y="764.3" class="lg">2022</text>
<rect x="897" y="781.4" width="12" height="4" fill="#5281d0"/>
<text x="917" y="787.6" class="lg">2023</text>
<rect x="897" y="804.7" width="12" height="4" fill="#3f955a"/>
<text x="917" y="810.9" class="lg">2024</text>
<rect x="897" y="828.0" width="12" height="4" fill="#eb9a2a"/>
<text x="917" y="834.2" class="lg">2025</text>
<rect x="897" y="851.3" width="12" height="4" fill="#f020f0"/>
<text x="917" y="857.5" class="lg">2026</text>
<text transform="translate(99.0,860) rotate(-90)" text-anchor="middle" class="yt">Clearance Rate Bps</text>
<line x1="102" y1="1178.6" x2="945" y2="1178.6" stroke="#dddddd" stroke-width="1"/>
<line x1="186" y1="1300" x2="186" y2="1317" stroke="#444" stroke-width="1"/>
<text x="94.3" y="181.9" class="title" textLength="267.7" lengthAdjust="spacingAndGlyphs">Trailing 7-Day MLS Clearance Rate</text>
<text x="363.8" y="175.4" class="tsup">1</text>
<text x="95" y="198.7" class="sub" textLength="235" lengthAdjust="spacingAndGlyphs">MLS Data Filtered to Opendoor Markets and Buybox</text>
<text x="94.5" y="641.7" class="title" textLength="469" lengthAdjust="spacingAndGlyphs">Trailing 7-Day MLS OD Price-Weighted Gross Clearance Rate</text>
<text x="564.5" y="635.6" class="tsup">2</text>
<text x="95" y="658.5" class="sub" textLength="235" lengthAdjust="spacingAndGlyphs">MLS Data Filtered to Opendoor Markets and Buybox</text>
<text x="106.2" y="1209.4" class="fn" textLength="784" lengthAdjust="spacingAndGlyphs">Note: MLS Clearance Rate is defined as the number of daily contracts that enter pending status on the Multiple Listing Service (i.e. market listings),</text>
<text x="98.1" y="1223.3" class="fn" textLength="836" lengthAdjust="spacingAndGlyphs">filtered for Opendoor’s markets and buybox, divided by the number of active listings on the Multiple Listing Service, filtered for the same markets and buybox.</text>
<text x="106.2" y="1241.5" class="fn" textLength="809.7" lengthAdjust="spacingAndGlyphs">Note: MLS OD Price-Weighted Gross Clearance Rate is defined as the number of daily contracts that enter pending status on the Multiple Listing Service</text>
<text x="98.1" y="1255.5" class="fn" textLength="833.3" lengthAdjust="spacingAndGlyphs">(i.e. market listings), filtered for Opendoor’s markets and buybox, divided by the number of active listings on the Multiple Listing Service, filtered for the same</text>
<text x="98.1" y="1268.4" class="fn" textLength="845" lengthAdjust="spacingAndGlyphs">markets and buybox, and weighted by Opendoor's price point and market mix, defined by the distribution of Opendoor's listed inventory across price points and</text>
<text x="98.1" y="1281.5" class="fn" textLength="47" lengthAdjust="spacingAndGlyphs">markets.</text>
<text x="97.8" y="1203.1" class="fsup">1</text>
<text x="97.8" y="1234.8" class="fsup">2</text>
<text x="97.1" y="1313.8" class="logo" textLength="78" lengthAdjust="spacingAndGlyphs">Opendoor</text>
<text x="195.7" y="1313.5" class="foot" textLength="208.5" lengthAdjust="spacingAndGlyphs">Supplemental Macro Charts 4Q25</text>
<text x="970.3" y="1313" class="pnum">1</text>
</svg>
</body></html>
